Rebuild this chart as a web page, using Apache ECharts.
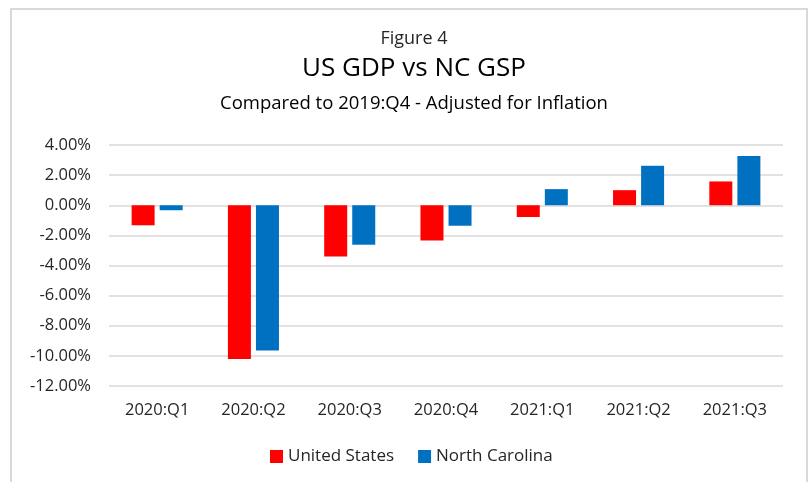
<!DOCTYPE html>
<html>
<head>
<meta charset="utf-8">
<title>US GDP vs NC GSP</title>
<script src="https://cdn.jsdelivr.net/npm/echarts@6/dist/echarts.min.js"></script>
<style>
  html, body { margin: 0; padding: 0; background: #fff; }
  #chart { width: 809px; height: 482px; }
</style>
</head>
<body>
<div id="chart"></div>
<script>
// quarters compared to 2019:Q4, percent change (real)
const categories = ["2020:Q1", "2020:Q2", "2020:Q3", "2020:Q4", "2021:Q1", "2021:Q2", "2021:Q3"];
const usValues = [-1.33, -10.2, -3.4, -2.34, -0.78, 1.0, 1.58];
const ncValues = [-0.33, -9.64, -2.62, -1.36, 1.07, 2.62, 3.27];
const seriesNames = ["United States", "North Carolina"];

const font = "'Open Sans', 'Noto Sans', sans-serif";
const myChart = echarts.init(document.getElementById("chart"));

const option = {
  backgroundColor: "#fff",
  animation: false,
  textStyle: { fontFamily: font },
  title: [
    { text: "Figure 4", left: 409, top: 25, textAlign: "center",
      textStyle: { fontFamily: font, fontSize: 18, fontWeight: "normal", color: "#262626" } },
    { text: "US GDP vs NC GSP", left: 409, top: 51, textAlign: "center",
      textStyle: { fontFamily: font, fontSize: 26, fontWeight: "normal", color: "#000" } },
    { text: "Compared to 2019:Q4 - Adjusted for Inflation", left: 409, top: 89, textAlign: "center",
      textStyle: { fontFamily: font, fontSize: 18.5, fontWeight: "normal", color: "#000" } }
  ],
  // light frame round the chart, as in the original
  graphic: [{
    type: "rect",
    shape: { x: 11, y: 9, width: 796, height: 480 },
    style: { fill: "none", stroke: "#d9d9d9", lineWidth: 2 },
    silent: true
  }],
  legend: {
    data: seriesNames,
    bottom: 12,
    left: 265,
    itemWidth: 13,
    itemHeight: 13,
    itemGap: 24,
    icon: "rect",
    textStyle: { fontFamily: font, fontSize: 17, color: "#262626" }
  },
  grid: { left: 109, right: 26, top: 145, bottom: 96, containLabel: false },
  xAxis: {
    type: "category",
    data: categories,
    axisLine: { show: false, onZero: false },
    axisTick: { show: false },
    axisLabel: { fontFamily: font, fontSize: 16.5, color: "#262626", margin: 16 }
  },
  yAxis: {
    type: "value",
    min: -12,
    max: 4,
    interval: 2,
    axisLine: { show: false },
    axisTick: { show: false },
    splitLine: { lineStyle: { color: "#d9d9d9", width: 1.5 } },
    axisLabel: {
      fontFamily: font, fontSize: 16.5, color: "#262626", margin: 18,
      formatter: v => v.toFixed(2) + "%"
    }
  },
  series: [
    { name: seriesNames[0], type: "bar", data: usValues, barWidth: 23, barGap: "22%",
      itemStyle: { color: "#ff0000" } },
    { name: seriesNames[1], type: "bar", data: ncValues, barWidth: 23,
      itemStyle: { color: "#0070c0" } }
  ]
};

myChart.setOption(option);
</script>
</body>
</html>
